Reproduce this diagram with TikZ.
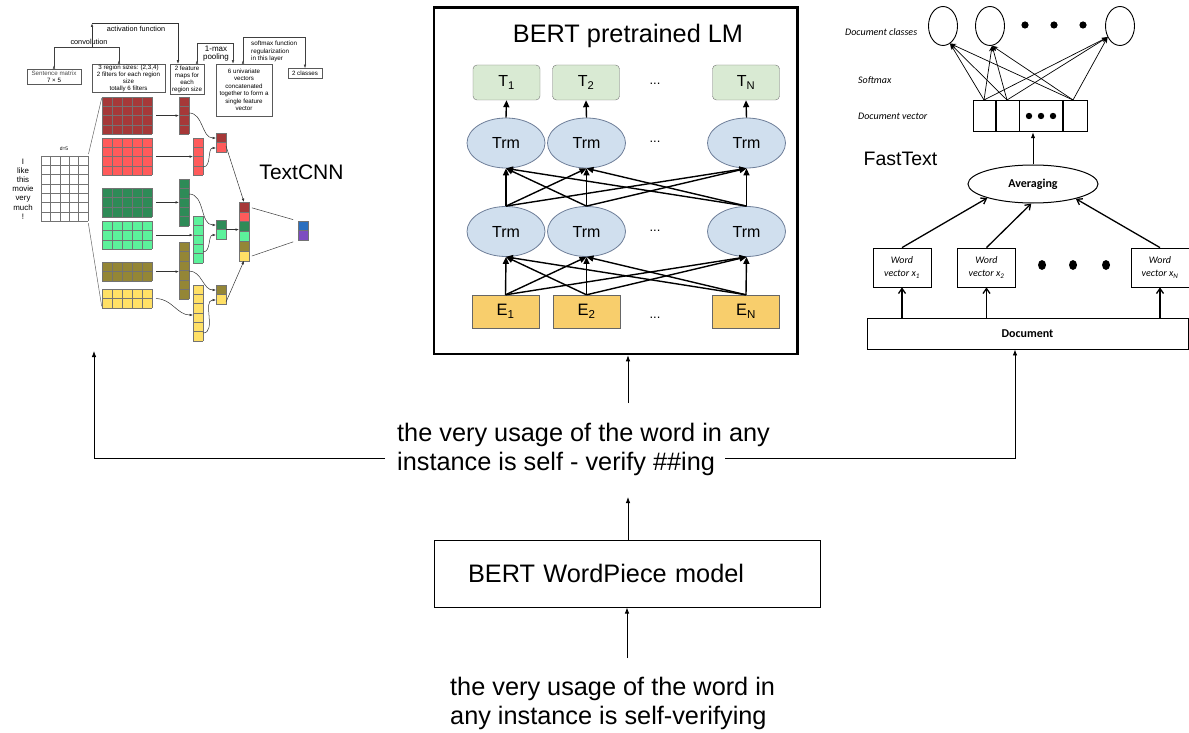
\documentclass[tikz,border=0pt]{standalone}
\usepackage{fontspec}
\setmainfont{Liberation Sans}
\newfontfamily\calibfont{Carlito}
\usetikzlibrary{arrows.meta,shapes.geometric,calc}

\definecolor{cdr}{HTML}{A63838}
\definecolor{cr}{HTML}{FF5B5B}
\definecolor{cdg}{HTML}{2E8B57}
\definecolor{clg}{HTML}{5CF29B}
\definecolor{col}{HTML}{948636}
\definecolor{cy}{HTML}{FFE066}
\definecolor{cbl}{HTML}{2B6FBF}
\definecolor{cpu}{HTML}{7D4CC0}
\definecolor{tgreen}{HTML}{D9EAD3}
\definecolor{trmblue}{HTML}{D0DFEE}
\definecolor{trmborder}{HTML}{6F7F99}
\definecolor{eyellow}{HTML}{F8CE6C}

% name, x, y, cols, rows, colour, cell width, cell height
\newcommand{\cellblock}[8]{%
  \node[inner sep=0, outer sep=0, minimum width=#4*#7pt, minimum height=#5*#8pt, anchor=north west, fill=#6] (#1) at (#2,#3) {};
  \foreach \c in {0,...,#4} {\draw[gridl] (#2+\c*#7,#3) -- (#2+\c*#7,#3+#5*#8);}
  \foreach \r in {0,...,#5} {\draw[gridl] (#2,#3+\r*#8) -- (#2+#4*#7,#3+\r*#8);}
}
% name, x, y, top colour, bottom colour
\newcommand{\paircell}[5]{%
  \fill[#4] (#2,#3) rectangle (#2+10,#3+9.6);
  \fill[#5] (#2,#3+9.6) rectangle (#2+10,#3+19.2);
  \draw[gridl] (#2,#3) rectangle (#2+10,#3+19.2) (#2,#3+9.6) -- (#2+10,#3+9.6);
  \node[inner sep=0, outer sep=0, minimum width=10pt, minimum height=19.2pt, anchor=north west] (#1) at (#2,#3) {};
}

\tikzset{
  gridl/.style={draw=black!55, line width=0.4pt},
  cnnbox/.style={draw=black!65, line width=0.5pt, inner sep=0.5pt, font=\fontsize{6.2}{7}\selectfont, align=center},
  cnnln/.style={line width=0.5pt, draw=black!75},
  cnnarr/.style={line width=0.5pt, draw=black!80, -{Latex[length=3.5pt,width=2.6pt]}},
  tipup/.style={{Latex[reversed,length=3.5pt,width=2.6pt]}-{Latex[length=3.5pt,width=2.6pt]}},
  tbox/.style={draw=black!55, fill=tgreen, rounded corners=4pt, minimum width=67pt, minimum height=35pt, font=\fontsize{16}{16}\selectfont},
  trm/.style={ellipse, draw=trmborder, fill=trmblue, minimum width=78pt, minimum height=50pt, font=\fontsize{16}{16}\selectfont, line width=0.8pt},
  ebox/.style={draw=black!60, fill=eyellow, minimum width=67pt, minimum height=33pt, font=\fontsize{16.5}{16.5}\selectfont},
  bdots/.style={font=\fontsize{13}{13}\selectfont},
  barr/.style={line width=1.4pt, -{Triangle[length=7pt,width=6pt]}},
  marr/.style={line width=0.8pt, -{Latex[length=6pt,width=4.5pt]}},
  bigtext/.style={font=\fontsize{25.3}{29}\selectfont, align=left, anchor=north west, inner sep=0},
  ftlab/.style={font=\calibfont\itshape\fontsize{10}{10}\selectfont, anchor=west, inner sep=0},
  wvbox/.style={draw, line width=0.8pt, minimum width=58pt, minimum height=39pt, align=center, inner sep=1pt, font=\calibfont\itshape\fontsize{10}{13}\selectfont},
  farr/.style={line width=0.7pt, -{Stealth[length=6pt,width=4.5pt]}},
  oarr/.style={line width=1.3pt, -{Straight Barb[length=5pt,width=7pt]}},
}

\begin{document}
\begin{tikzpicture}[x=1pt,y=-1pt]
\useasboundingbox (0,0) rectangle (1189,733);

% ================= TextCNN =================
\node[cnnbox, minimum width=54pt, minimum height=15pt] (sm) at (54,76.5) {\textcolor{black!70}{Sentence matrix}\\7 × 5};
\node[cnnbox, minimum width=73pt, minimum height=28pt] (rs) at (128.5,78) {3 region sizes: (2,3,4)\\2 filters for each region\\size\\totally 6 filters};
\node[cnnbox, minimum width=34pt, minimum height=30pt] (fmb) at (187,79) {2 feature\\maps for\\each\\region size};
\node[cnnbox, minimum width=56pt, minimum height=52pt, font=\fontsize{6.2}{7.5}\selectfont] (uv) at (244,90) {6 univariate\\vectors\\concatenated\\together to form a\\single feature\\vector};
\node[cnnbox, minimum width=34pt, minimum height=10pt] (cls) at (305,73.5) {2 classes};

\node[font=\fontsize{7.3}{8}\selectfont, inner sep=0] (lconv) at (89,41.5) {convolution};
\node[font=\fontsize{7.3}{8}\selectfont, inner sep=0] (lact) at (136,28.5) {activation function};
\node[font=\fontsize{8}{8}\selectfont, align=center, inner sep=0] (lpool) at (216,53.5) {1-max\\pooling};
\node[font=\fontsize{6.3}{7.5}\selectfont, align=left, anchor=north west, inner sep=0] (lsoft) at (251,41) {softmax function\\regularization\\in this layer};

\draw[cnnln, {Latex[reversed,length=3.5pt,width=2.6pt]}-{Latex[reversed,length=3.5pt,width=2.6pt]}] (sm.north) |- (119,47) -- (rs.north -| 119,0);
\draw[cnnarr] (92,47) -- (92,23.5);
\draw[cnnarr] (92,23) -| (fmb.north -| 178,0);
\draw[cnnln, tipup] (fmb.north -| 197,0) |- (233,43) -- (uv.north -| 233,0);
\draw[cnnln, tipup] (uv.north -| 243,0) |- (305,37) -- (cls.north);

% sentence matrix
\node[font=\fontsize{7.9}{9.2}\selectfont, align=center, inner sep=0] (words) at (23,189) {I\\like\\this\\movie\\very\\much\\!};
\node[font=\fontsize{5}{5}\selectfont, inner sep=0] (dlab) at (64,149) {d=5};
\cellblock{smat}{41}{156}{5}{7}{white}{9.4}{9.3}

% filters
\cellblock{fdr}{102}{97}{5}{4}{cdr}{10}{9.3}
\cellblock{fr}{102}{138}{5}{4}{cr}{10}{9.3}
\cellblock{fdg}{102}{188}{5}{3}{cdg}{10}{9.6}
\cellblock{flg}{102}{221}{5}{3}{clg}{10}{9.4}
\cellblock{fol}{102}{262}{5}{2}{col}{10}{9.6}
\cellblock{fye}{102}{289}{5}{2}{cy}{10}{9.6}

\draw[black!60, line width=0.5pt, shorten <=2pt, shorten >=1pt] (smat.north east) -- (fdr.north west);
\draw[black!60, line width=0.5pt, shorten <=2pt, shorten >=2pt] (smat.south east) -- (fye.south west);

% feature maps
\cellblock{mdr}{179}{97}{1}{4}{cdr}{10}{9.3}
\cellblock{mr}{193}{138}{1}{4}{cr}{10}{9.3}
\cellblock{mdg}{179}{179}{1}{5}{cdg}{10}{9.4}
\cellblock{mlg}{193}{216}{1}{5}{clg}{10}{9.4}
\cellblock{mol}{179}{242}{1}{6}{col}{10}{9.5}
\cellblock{mye}{193}{285}{1}{6}{cy}{10}{9.3}

\draw[cnnarr, shorten <=4pt] (fdr.east) -- (mdr.west);
\draw[cnnarr, shorten <=4pt] (fr.east) -- (mr.west);
\draw[cnnarr, shorten <=4pt] (fdg.east) -- (mdg.west |- fdg.east);
\draw[cnnarr, shorten <=4pt] (flg.east) -- (mlg.west |- flg.east);
\draw[cnnarr, shorten <=4pt] (fol.east) -- (mol.west |- fol.east);
\draw[cnnarr] ($(fye.east)+(4,0)$) to[out=0,in=180] (mye.west |- 0,315);

% pooled pairs
\paircell{pr}{216}{133}{cdr}{cr}
\paircell{pg}{216}{220}{cdg}{clg}
\paircell{py}{216}{285}{col}{cy}

\draw[cnnarr] (mdr.east |- 0,113) to[out=0,in=180] (pr.west |- 0,138);
\draw[cnnarr] (mr.east |- 0,167) to[out=0,in=180] (pr.west |- 0,148);
\draw[cnnarr] (mdg.east |- 0,194) to[out=0,in=180] (pg.west |- 0,225);
\draw[cnnarr] (mlg.east |- 0,252) to[out=0,in=180] (pg.west |- 0,235);
\draw[cnnarr] (mol.east |- 0,271) to[out=0,in=180] (py.west |- 0,290);
\draw[cnnarr] (mye.east |- 0,333) to[out=0,in=180] (py.west |- 0,300);

% concatenated vector
\foreach \cc [count=\k from 0] in {cdr,cr,cdg,clg,col,cy} {
  \fill[\cc] (239,202+\k*9.8) rectangle (249,211.8+\k*9.8);
  \draw[gridl] (239,202+\k*9.8) rectangle (249,211.8+\k*9.8);
}
\node[inner sep=0, outer sep=0, minimum width=10pt, minimum height=58.8pt, anchor=north west] (cc) at (239,202) {};

\draw[cnnarr] (pr.east |- 0,146) -- (cc.north);
\draw[cnnarr] (pg.east) -- (cc.west |- pg.east);
\draw[cnnarr] (py.east |- 0,302) -- (cc.south);

% output
\fill[cbl] (298,221) rectangle (308,230.6);
\fill[cpu] (298,230.6) rectangle (308,240.2);
\draw[gridl] (298,221) rectangle (308,240.2) (298,230.6) -- (308,230.6);
\node[inner sep=0, outer sep=0, minimum width=10pt, minimum height=19.2pt, anchor=north west] (outv) at (298,221) {};
\draw[cnnln, shorten <=3pt, shorten >=5pt] (cc.north east |- 0,207) -- (outv.north west);
\draw[cnnln, shorten <=3pt, shorten >=5pt] (cc.south east |- 0,257) -- (outv.south west);

\node[font=\fontsize{21}{21}\selectfont, inner sep=0] (lcnn) at (301.5,172) {TextCNN};

% ================= BERT =================
\node[draw, line width=2.8pt, minimum width=363.5pt, minimum height=346.5pt, anchor=north west, inner sep=0] (bert) at (432.5,6) {};
\node[font=\fontsize{25.3}{25}\selectfont, inner sep=0] (btitle) at (628,36) {BERT pretrained LM};

\node[tbox] (t1) at (506.5,82.5) {T\textsubscript{1}};
\node[tbox] (t2) at (586,82.5) {T\textsubscript{2}};
\node[tbox] (tn) at (746,82.5) {T\textsubscript{N}};

\node[trm] (a1) at (506,143) {Trm};
\node[trm] (a2) at (586.5,143) {Trm};
\node[trm] (an) at (746.5,143) {Trm};

\node[trm] (b1) at (506,231.5) {Trm};
\node[trm] (b2) at (586.5,231.5) {Trm};
\node[trm] (bn) at (746.5,231.5) {Trm};

\node[ebox] (e1) at (505.5,311.5) {E\textsubscript{1}};
\node[ebox] (e2) at (586.5,311.5) {E\textsubscript{2}};
\node[ebox] (en) at (746,311.5) {E\textsubscript{N}};

\node[bdots] (d1) at (655,84) {...};
\node[bdots] (d2) at (655,142) {...};
\node[bdots] (d3) at (655,231) {...};
\node[bdots] (d4) at (655,318) {...};

\foreach \i in {1,2,n} {
  \draw[barr] (a\i.north) -- (t\i.south);
  \foreach \j in {1,2,n} {
    \draw[barr] (e\i.north) -- (b\j.south);
    \draw[barr] (b\i.north) -- (a\j.south);
  }
}

% ================= FastText =================
\node[ellipse, draw, line width=0.9pt, minimum width=29pt, minimum height=39pt, inner sep=0] (c1) at (943,26) {};
\node[ellipse, draw, line width=0.9pt, minimum width=29pt, minimum height=39pt, inner sep=0] (c2) at (990,26) {};
\node[ellipse, draw, line width=0.9pt, minimum width=29pt, minimum height=39pt, inner sep=0] (cn) at (1120,26) {};
\fill (1025,25) circle (3.6) (1054,25) circle (3.6) (1083,25) circle (3.6);

\node[ftlab] (lclass) at (845,32) {Document classes};
\node[ftlab] (lsoftm) at (858,80) {Softmax};
\node[ftlab] (ldv) at (858,116) {Document vector};

\node[draw, line width=1.2pt, minimum width=114pt, minimum height=31pt, anchor=north west, inner sep=0] (dv) at (973,100) {};
\draw[line width=1.2pt] (dv.north -| 996,0) -- (dv.south -| 996,0);
\draw[line width=0.8pt] (dv.north -| 1019,0) -- (dv.south -| 1019,0);
\draw[line width=1.2pt] (dv.north -| 1063,0) -- (dv.south -| 1063,0);
\fill (1029,116) circle (3.2) (1041,116) circle (3.2) (1053,116) circle (3.2);
\coordinate (dv1) at (984,100);
\coordinate (dv2) at (1007,100);
\coordinate (dv4) at (1073,100);
\foreach \s in {dv1,dv2,dv4} {
  \draw[farr] (\s) -- (c1.292);
  \draw[farr] (\s) -- (c2.276);
  \draw[farr] (\s) -- (cn.222);
}

\node[font=\fontsize{19.5}{19.5}\selectfont, inner sep=0] (lft) at (900.5,159) {FastText};

\node[ellipse, draw, line width=1pt, minimum width=130pt, minimum height=38pt, inner sep=0, font=\calibfont\bfseries\fontsize{12}{12}\selectfont] (avg) at (1033,184) {Averaging};
\draw[line width=1pt, -{Latex[length=6pt,width=4.5pt]}] (avg.north) -- (avg.north |- dv.south);

\node[wvbox] (w1) at (902,267.5) {Word\\vector x\textsubscript{1}};
\node[wvbox] (w2) at (986.5,267.5) {Word\\vector x\textsubscript{2}};
\node[wvbox] (wn) at (1160,267.5) {Word\\vector x\textsubscript{N}};
\fill (1042,265) ellipse (4 and 5) (1073,265) ellipse (4 and 5) (1106,265) ellipse (4 and 5);

\draw[oarr] (w1.north) -- (avg.197);
\draw[oarr] (w2.north) -- (avg.265);
\draw[oarr] (wn.north) -- (avg.341);

\node[draw, line width=0.9pt, minimum width=321pt, minimum height=31pt, inner sep=0, font=\calibfont\bfseries\fontsize{12}{12}\selectfont] (doc) at (1027.5,333.5) {Document};
\draw[oarr] (doc.north -| w1.south) -- (w1.south);
\draw[oarr] (doc.north -| w2.south) -- (w2.south);
\draw[oarr] (doc.north -| wn.south) -- (wn.south);

% ================= bottom =================
\node[bigtext] (mid) at (397,423) {the very usage of the word in any\\instance is self - verify \#\#ing};
\node[draw, line width=1pt, minimum width=386pt, minimum height=67pt, text width=318pt, inner xsep=34pt, align=left, font=\fontsize{25.3}{29}\selectfont] (wp) at (627,573.5) {BERT WordPiece model};
\node[bigtext] (bot) at (450,677) {the very usage of the word in\\any instance is self-verifying};

\coordinate (midL) at (385,458);
\coordinate (midR) at (725,458);
\coordinate (cnnin) at (94,351);
\coordinate (midtop) at (628,403);
\coordinate (midbot) at (628,497);
\coordinate (botin) at (627,658);

\draw[marr] (midL) -| (cnnin);
\draw[marr] (midR) -| (doc.south -| 1015,0);
\draw[marr] (midtop) -- (bert.south -| midtop);
\draw[marr] (wp.north -| midbot) -- (midbot);
\draw[marr] (botin) -- (wp.south -| botin);

\end{tikzpicture}
\end{document}
